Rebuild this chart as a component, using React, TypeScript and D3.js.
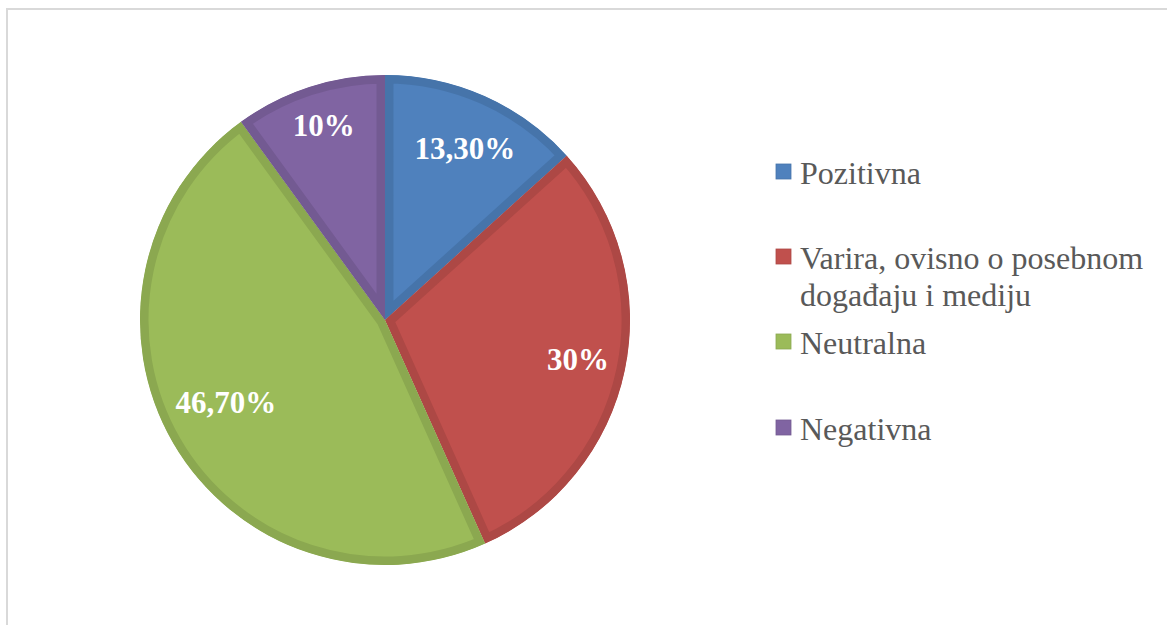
import React from "react";
import * as d3 from "d3";

const categories = ["Pozitivna", "Varira, ovisno o posebnom događaju i mediju", "Neutralna", "Negativna"];
const legendLines = [["Pozitivna"], ["Varira, ovisno o posebnom", "događaju i mediju"], ["Neutralna"], ["Negativna"]];
const values = [13.3, 30, 46.7, 10];
const valueLabels = ["13,30%", "30%", "46,70%", "10%"];
const fills = ["#4F81BD", "#C0504D", "#9BBB59", "#8064A2"];
const edges = ["#4674AA", "#AD4845", "#8BA850", "#735A92"];

const W = 1167;
const H = 625;
const cx = 385;
const cy = 320;
const R = 245;
// layout nudges for data labels (best-fit placement)
const labelNudge = [[2, 4], [5, 0], [7, -14], [-2, -12]];

export default function App() {
  const pie = d3.pie<number>().sort(null).value((d) => d)(values);
  const arc = d3.arc<d3.PieArcDatum<number>>().innerRadius(0).outerRadius(R);
  const labelArc = d3.arc<d3.PieArcDatum<number>>().innerRadius(192).outerRadius(192);
  const legendBaselines = [184, 269, 354, 440];
  return (
    <svg
      width={W}
      height={H}
      style={{ position: "absolute", left: 0, top: 0, background: "#fff" }}
      fontFamily="'Liberation Serif', 'Times New Roman', serif"
    >
      <rect x={7} y={9} width={W + 10} height={H + 10} fill="#fff" stroke="#D9D9D9" strokeWidth={2} />
      <defs>
        {pie.map((p, i) => (
          <clipPath id={`clip${i}`} key={i}>
            <path d={arc(p) || ""} transform={`translate(${cx},${cy})`} />
          </clipPath>
        ))}
      </defs>
      {pie.map((p, i) => (
        <g key={i} clipPath={`url(#clip${i})`}>
          <path
            d={arc(p) || ""}
            transform={`translate(${cx},${cy})`}
            fill={fills[i]}
            stroke={edges[i]}
            strokeWidth={17}
            strokeLinejoin="miter"
          />
        </g>
      ))}
      {pie.map((p, i) => {
        const [x, y] = labelArc.centroid(p);
        return (
          <text
            key={i}
            x={cx + x + labelNudge[i][0]}
            y={cy + y + labelNudge[i][1]}
            dy="0.35em"
            textAnchor="middle"
            fill="#fff"
            fontWeight="bold"
            fontSize={31}
          >
            {valueLabels[i]}
          </text>
        );
      })}
      {categories.map((c, i) => (
        <g key={c}>
          <rect x={776} y={legendBaselines[i] - 20} width={15} height={15} fill={fills[i]} stroke={edges[i]} strokeWidth={0.8} />
          {legendLines[i].map((ln, j) => (
            <text key={j} x={800} y={legendBaselines[i] + j * 37} fontSize={32} fill="#595959">
              {ln}
            </text>
          ))}
        </g>
      ))}
    </svg>
  );
}
